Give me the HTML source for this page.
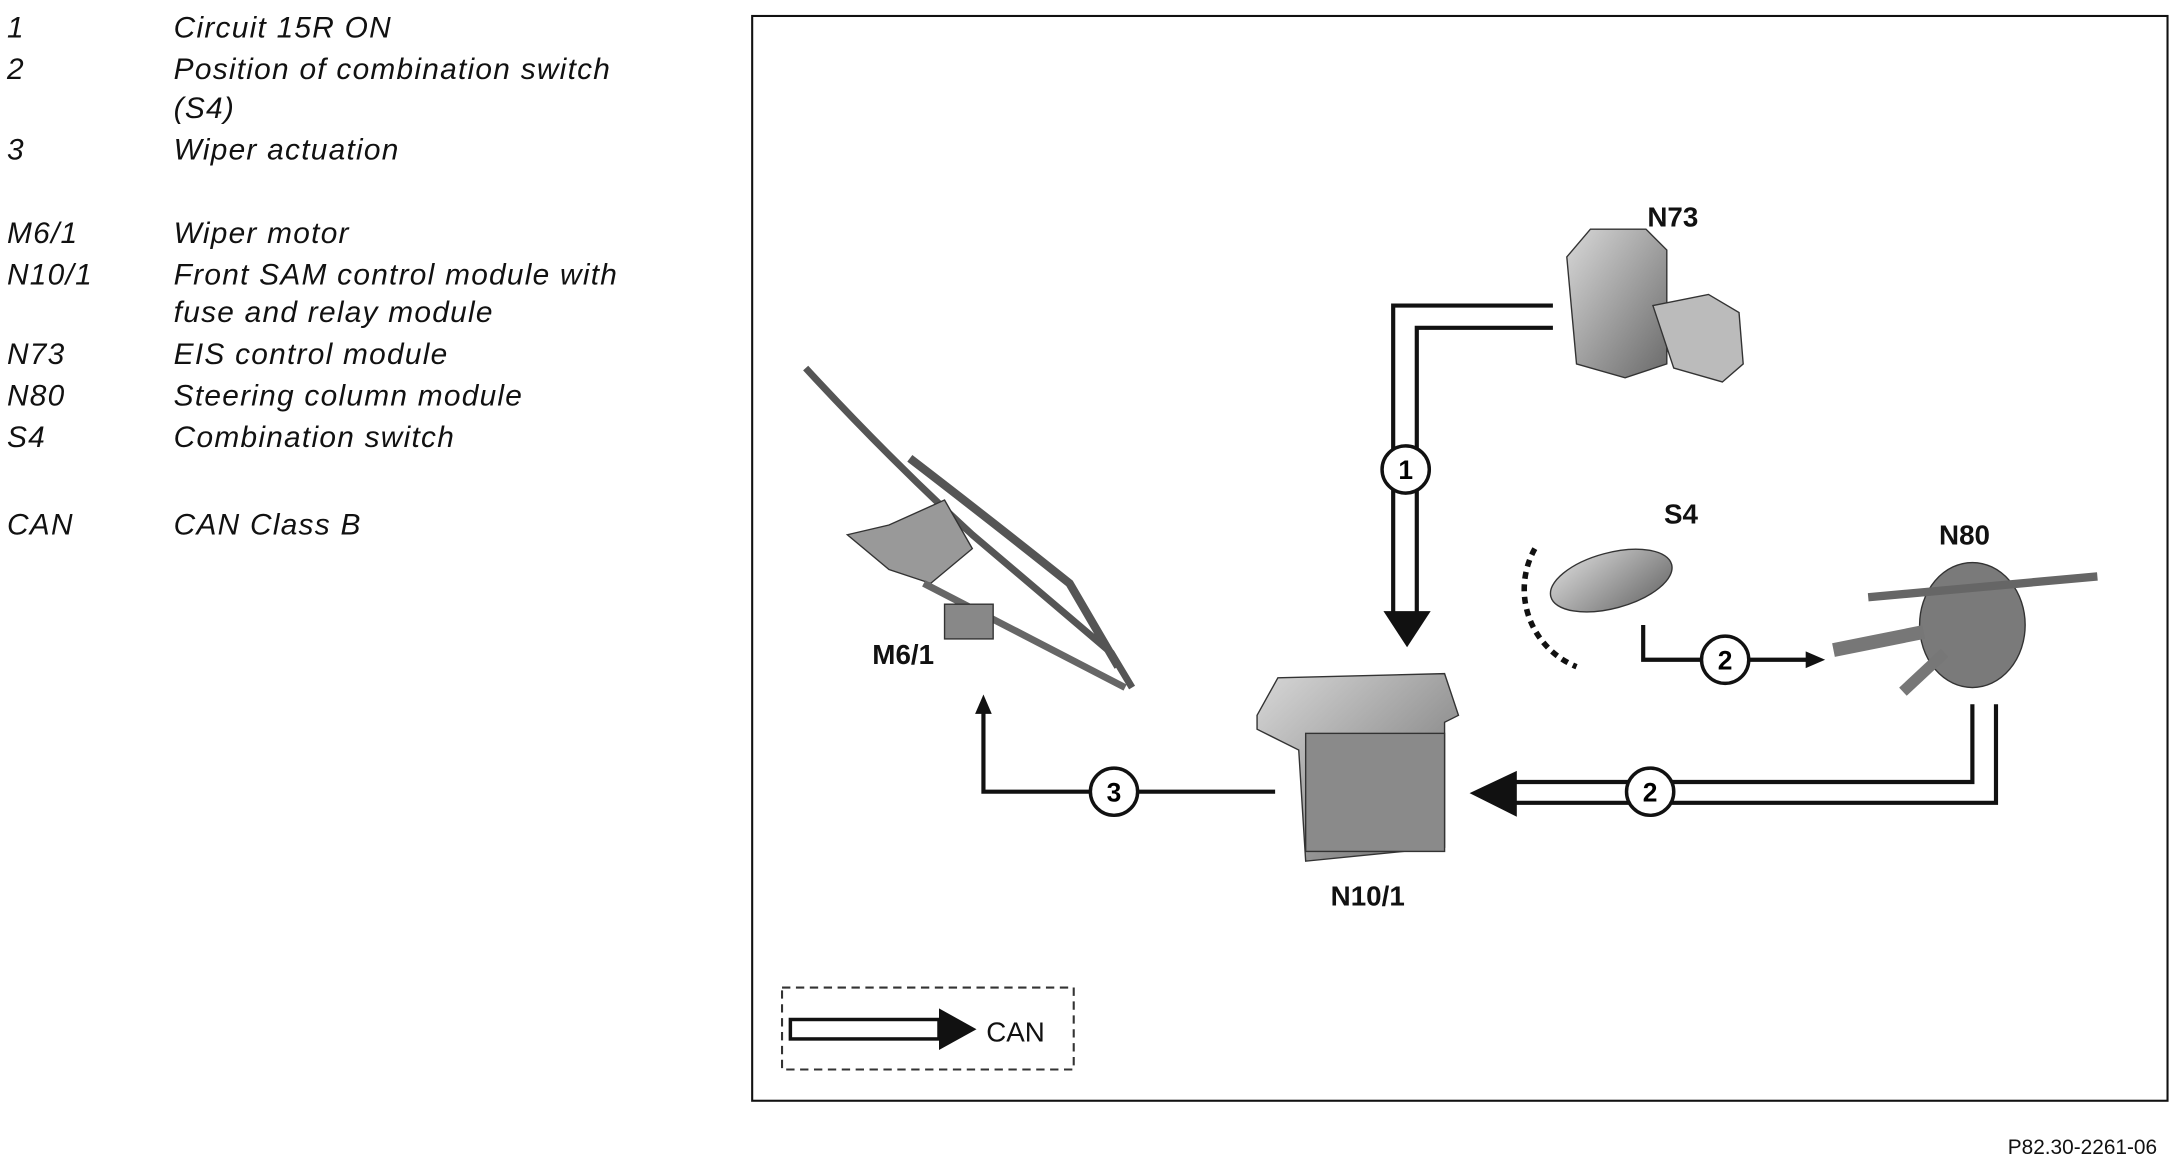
<!DOCTYPE html>
<html><head><style>html,body{margin:0;padding:0;background:#fff;width:2178px;height:1162px;overflow:hidden}</style></head>
<body>
<svg width="2178" height="1162" viewBox="0 0 1568 836.6" xmlns="http://www.w3.org/2000/svg">
<defs>
<linearGradient id="g" x1="0" y1="0" x2="1" y2="1"><stop offset="0" stop-color="#d8d8d8"/><stop offset="1" stop-color="#6a6a6a"/></linearGradient>
</defs>
<g font-family="Liberation Sans, sans-serif" font-style="italic" font-size="21.5" letter-spacing="0.9" fill="#111">
<text x="5" y="27">1</text><text x="125" y="27">Circuit 15R ON</text>
<text x="5" y="57">2</text><text x="125" y="57">Position of combination switch</text>
<text x="125" y="85">(S4)</text>
<text x="5" y="115">3</text><text x="125" y="115">Wiper actuation</text>
<text x="5" y="175">M6/1</text><text x="125" y="175">Wiper motor</text>
<text x="5" y="205">N10/1</text><text x="125" y="205">Front SAM control module with</text>
<text x="125" y="232">fuse and relay module</text>
<text x="5" y="262">N73</text><text x="125" y="262">EIS control module</text>
<text x="5" y="292">N80</text><text x="125" y="292">Steering column module</text>
<text x="5" y="322">S4</text><text x="125" y="322">Combination switch</text>
<text x="5" y="385">CAN</text><text x="125" y="385">CAN Class B</text>
</g>
<text x="1553" y="831" font-family="Liberation Sans, sans-serif" font-size="15" text-anchor="end" fill="#111">P82.30-2261-06</text>
<rect x="541.5" y="11.5" width="1019" height="781" fill="none" stroke="#111" stroke-width="1.5"/>

<g stroke="#333" stroke-width="1">
<!-- N73 -->
<path d="M1128 185 L1145 165 L1185 165 L1200 180 L1200 262 L1170 272 L1135 262 Z" fill="url(#g)"/>
<path d="M1190 220 L1230 212 L1252 225 L1255 262 L1240 275 L1205 265 Z" fill="#bbb"/>
<!-- N10/1 -->
<path d="M905 515 L920 488 L1040 485 L1050 515 L1040 520 L1040 610 L940 620 L935 540 L905 525 Z" fill="url(#g)"/>
<rect x="940" y="528" width="100" height="85" fill="#8a8a8a"/>
<!-- S4 -->
<ellipse cx="1160" cy="418" rx="45" ry="20" fill="url(#g)" transform="rotate(-15 1160 418)"/>
<!-- N80 -->
<ellipse cx="1420" cy="450" rx="38" ry="45" fill="#7a7a7a"/>
<path d="M1345 430 L1510 415" stroke="#666" stroke-width="6"/>
<path d="M1320 468 L1385 455" stroke="#777" stroke-width="10"/>
<path d="M1370 498 L1400 470" stroke="#777" stroke-width="8"/>
<!-- wiper -->
<path d="M580 265 Q640 330 700 385 L800 470 L815 495" fill="none" stroke="#555" stroke-width="5"/>
<path d="M655 330 Q720 380 770 420 L805 480" fill="none" stroke="#555" stroke-width="6"/>
<path d="M610 385 L640 378 L680 360 L700 395 L670 420 L640 410 Z" fill="#999"/>
<path d="M665 420 L810 495" stroke="#666" stroke-width="5"/>
<rect x="680" y="435" width="35" height="25" fill="#888"/>
</g>
<path d="M1105 395 A60 60 0 0 0 1135 480" fill="none" stroke="#111" stroke-width="4" stroke-dasharray="5 4"/>

<path d="M1118 220 L1003 220 L1003 442" fill="none" stroke="#111" stroke-width="3"/>
<path d="M1118 236 L1020 236 L1020 442" fill="none" stroke="#111" stroke-width="3"/>
<polygon points="996,440 1030,440 1013,466" fill="#111"/>
<circle cx="1012" cy="338" r="17" fill="#fff" stroke="#111" stroke-width="2.5"/>
<text x="1012" y="345" font-family="Liberation Sans, sans-serif" font-weight="bold" font-size="19" text-anchor="middle">1</text>

<path d="M1420 507 L1420 563 L1090 563" fill="none" stroke="#111" stroke-width="3"/>
<path d="M1437 507 L1437 578 L1090 578" fill="none" stroke="#111" stroke-width="3"/>
<polygon points="1092,555 1092,588 1058,571" fill="#111"/>
<circle cx="1188" cy="570" r="17" fill="#fff" stroke="#111" stroke-width="2.5"/>
<text x="1188" y="577" font-family="Liberation Sans, sans-serif" font-weight="bold" font-size="19" text-anchor="middle">2</text>

<path d="M1183 450 L1183 475 L1302 475" fill="none" stroke="#111" stroke-width="3"/>
<polygon points="1300,469 1300,481 1314,475" fill="#111"/>
<circle cx="1242" cy="475" r="17" fill="#fff" stroke="#111" stroke-width="2.5"/>
<text x="1242" y="482" font-family="Liberation Sans, sans-serif" font-weight="bold" font-size="19" text-anchor="middle">2</text>

<path d="M918 570 L708 570 L708 512" fill="none" stroke="#111" stroke-width="3"/>
<polygon points="702,514 714,514 708,500" fill="#111"/>
<circle cx="802" cy="570" r="17" fill="#fff" stroke="#111" stroke-width="2.5"/>
<text x="802" y="577" font-family="Liberation Sans, sans-serif" font-weight="bold" font-size="19" text-anchor="middle">3</text>

<g font-family="Liberation Sans, sans-serif" font-weight="bold" font-size="20" fill="#111">
<text x="1186" y="163">N73</text>
<text x="1198" y="377">S4</text>
<text x="1396" y="392">N80</text>
<text x="628" y="478">M6/1</text>
<text x="958" y="652">N10/1</text>
</g>

<rect x="563" y="711" width="210" height="59" fill="none" stroke="#333" stroke-width="1.5" stroke-dasharray="6 4"/>
<rect x="569" y="734" width="107" height="14" fill="#fff" stroke="#111" stroke-width="2.5"/>
<polygon points="676,726 676,756 703,741" fill="#111"/>
<text x="710" y="750" font-family="Liberation Sans, sans-serif" font-size="20" fill="#111">CAN</text>
</svg>
</body></html>
